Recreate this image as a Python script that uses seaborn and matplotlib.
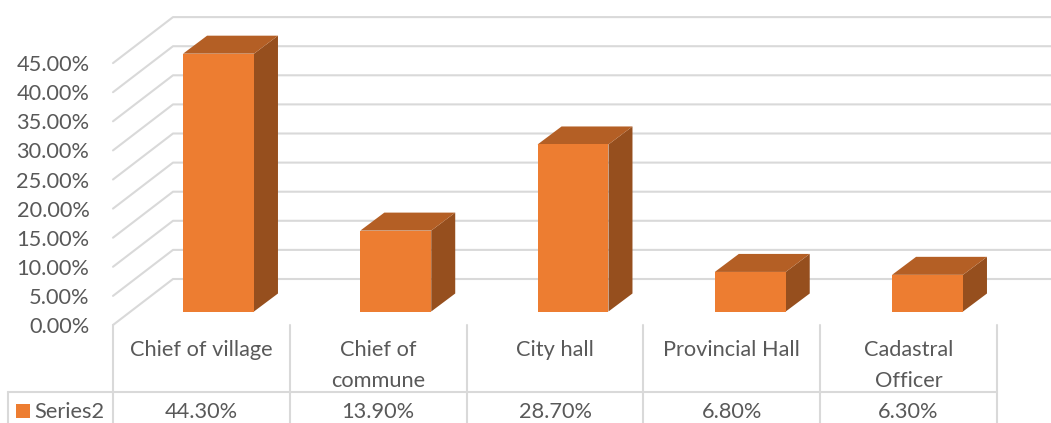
import matplotlib
matplotlib.use('Agg')
import matplotlib.pyplot as plt
from matplotlib.patches import Rectangle
import seaborn as sns

categories = ['Chief of village', 'Chief of\ncommune', 'City hall', 'Provincial Hall', 'Cadastral\nOfficer']
values = [44.3, 13.9, 28.7, 6.8, 6.3]
value_labels = ['44.30%', '13.90%', '28.70%', '6.80%', '6.30%']
y_ticks = [0, 5, 10, 15, 20, 25, 30, 35, 40, 45]
series_name = 'Series2'

W, H = 1051, 423
PX_X = 176.8   # pixels per category on the front plane
BAR_PX = 177.25  # pixels per category where the bars stand
PX_Y = 5.82    # pixels per percent
YMAX = 55

FRONT = '#ED7D31'
TOP = '#B45F25'
SIDE = '#964F1E'
GRID = '#D9D9D9'
TEXT = '#595959'
FONT = 15.7

sns.set_theme(style='white')
plt.rcParams['font.family'] = ['Lato', 'DejaVu Sans']

fig = plt.figure(figsize=(W / 100, H / 100), dpi=100)


def add_axes(left, base, px_x):
    # left and base are pixels from the top left corner of the picture
    return fig.add_axes([left / W, (H - base) / H, px_x * 5 / W, PX_Y * YMAX / H])


# front plane: axis labels, walls and the data table
ax_front = add_axes(113, 325, PX_X)
ax_front.set_xlim(-0.5, 4.5)
ax_front.set_ylim(0, YMAX)
ax_front.patch.set_alpha(0)
sns.despine(ax=ax_front, left=True, bottom=True)
ax_front.set_xticks(range(5))
ax_front.set_xticklabels(categories, linespacing=1.7)
ax_front.set_yticks(y_ticks)
ax_front.set_yticklabels(['%.2f%%' % t for t in y_ticks])
ax_front.tick_params(axis='x', length=0, pad=10.5, labelsize=FONT, labelcolor=TEXT)
ax_front.tick_params(axis='y', length=0, pad=17, labelsize=FONT, labelcolor=TEXT)

# gridlines run from the front edge up the side wall and along the back wall
wall_dx = 60 / PX_X
wall_dy = 46 / PX_Y
for t in y_ticks:
    ax_front.plot([-0.5, -0.5 + wall_dx, 5.0], [t, t + wall_dy, t + wall_dy],
                  color=GRID, lw=1.5, clip_on=False, zorder=1)

# data table
table_bottom = -(H - 325) / PX_Y
row_top = -(392 - 325) / PX_Y
table_left = -0.5 - (113 - 8) / PX_X
for i in range(6):
    ax_front.plot([i - 0.5, i - 0.5], [0, table_bottom], color=GRID, lw=1.5, clip_on=False)
ax_front.plot([table_left, 4.5], [row_top, row_top], color=GRID, lw=1.5, clip_on=False)
ax_front.plot([table_left, table_left], [row_top, table_bottom], color=GRID, lw=1.5, clip_on=False)

row_mid = -(412 - 325) / PX_Y
for i, lab in enumerate(value_labels):
    ax_front.text(i, row_mid, lab, ha='center', va='center', fontsize=FONT, color=TEXT)
ax_front.add_patch(Rectangle((-0.5 - 97 / PX_X, -(418 - 325) / PX_Y), 14 / PX_X, 14 / PX_Y,
                             color=FRONT, lw=0, clip_on=False))
ax_front.text(-0.5 - 79 / PX_X, row_mid, series_name, ha='left', va='center', fontsize=FONT, color=TEXT)

# bars sit a little way into the floor, so their axes is shifted from the front plane
ax_bars = add_axes(129.9, 311.5, BAR_PX)
sns.barplot(x=categories, y=values, color=FRONT, saturation=1, width=0.4, linewidth=0, ax=ax_bars, zorder=3)
ax_bars.set_xlim(-0.5, 4.5)
ax_bars.set_ylim(0, YMAX)
ax_bars.axis('off')

# side and top faces worked out from the bars seaborn drew
depth_x = 24 / BAR_PX
depth_y = 18 / PX_Y
for bar in ax_bars.patches:
    x0 = bar.get_x()
    x1 = x0 + bar.get_width()
    h = bar.get_height()
    ax_bars.fill([x1, x1 + depth_x, x1 + depth_x, x1], [0, depth_y, h + depth_y, h],
                 color=SIDE, lw=0, zorder=2)
    ax_bars.fill([x0, x0 + depth_x, x1 + depth_x, x1], [h, h + depth_y, h + depth_y, h],
                 color=TOP, lw=0, zorder=2)

fig.savefig('out.png', dpi=100)
